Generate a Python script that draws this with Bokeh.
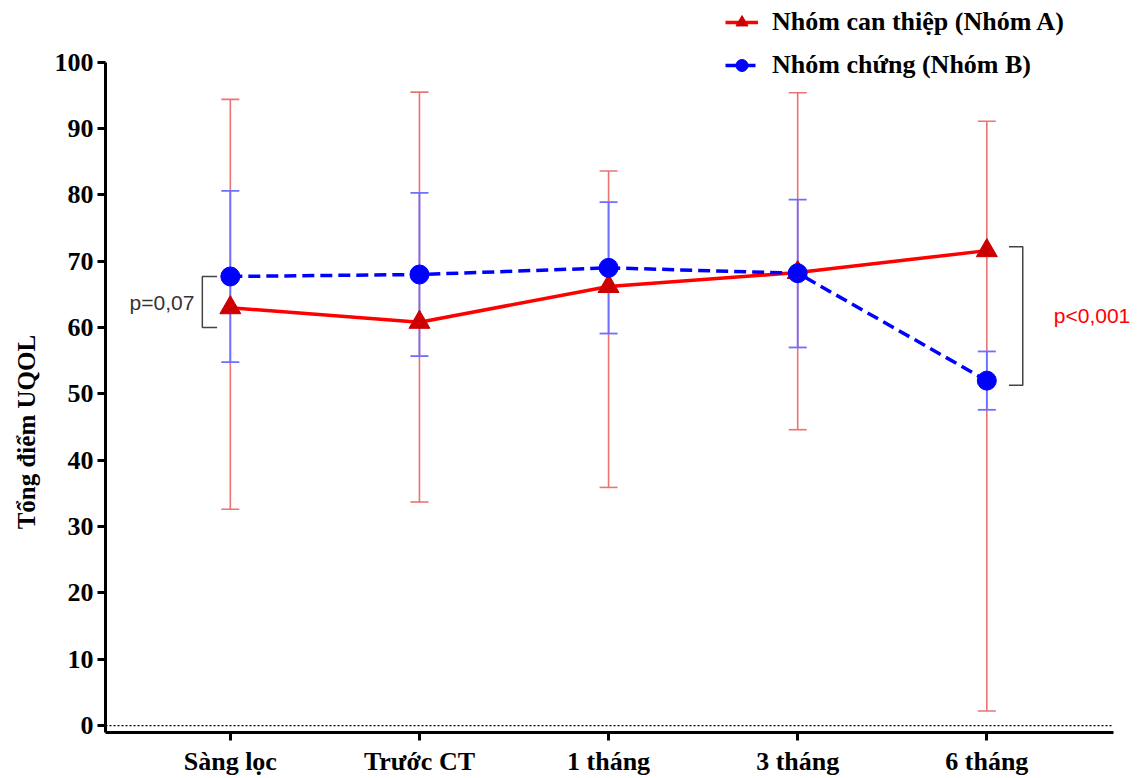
from bokeh.plotting import figure
from bokeh.models import (ColumnDataSource, Range1d, FixedTicker, Legend, LegendItem)
from bokeh.core.properties import value
from bokeh.embed import file_html
from bokeh.resources import INLINE

# ---- data ----
categories = ["Sàng lọc", "Trước CT", "1 tháng", "3 tháng", "6 tháng"]
group_a_mean = [63.0, 60.8, 66.2, 68.3, 71.6]
group_a_upper = [94.4, 95.5, 83.6, 95.4, 91.1]
group_a_lower = [32.6, 33.7, 35.9, 44.6, 2.2]
group_b_mean = [67.7, 68.0, 69.0, 68.2, 52.0]
group_b_upper = [80.6, 80.3, 78.9, 79.3, 56.4]
group_b_lower = [54.8, 55.7, 59.1, 57.0, 47.6]
series_labels = ["Nhóm can thiệp (Nhóm A)", "Nhóm chứng (Nhóm B)"]
y_ticks = [0, 10, 20, 30, 40, 50, 60, 70, 80, 90, 100]
y_label = "Tổng điểm UQOL"
p_left_text = "p=0,07"
p_left_span = [67.7, 60.0]
p_right_text = "p<0,001"
p_right_span = [72.2, 51.3]

x = list(range(len(categories)))
SERIF = "Liberation Serif"
SANS = "Liberation Sans"

# axis extents (style/layout)
X_LO, X_HI = -0.66, 4.67
Y_LO, Y_HI = -1.05, 100

p = figure(width=1145, height=778, output_backend="svg", toolbar_location=None,
           x_range=Range1d(X_LO, 4.839), y_range=Range1d(Y_LO, 109.31),
           min_border_left=105, min_border_right=0, min_border_top=0, min_border_bottom=43)
p.outline_line_color = None
p.xgrid.visible = False
p.ygrid.visible = False
p.background_fill_color = "white"

# dotted zero line (limited to the axis extent)
p.line(x=[X_LO, X_HI], y=[0, 0], line_color="black", line_width=1.2, line_dash="2 2")

src_a = ColumnDataSource(dict(x=x, m=group_a_mean, u=group_a_upper, l=group_a_lower))
src_b = ColumnDataSource(dict(x=x, m=group_b_mean, u=group_b_upper, l=group_b_lower))

# error bars
for src, col, lw in ((src_a, "#EC7373", 1.6), (src_b, "#6E6EFF", 1.8)):
    p.segment(x0="x", x1="x", y0="l", y1="u", source=src, line_color=col, line_width=lw)
    p.scatter(x="x", y="u", source=src, marker="dash", size=18, line_color=col, line_width=lw)
    p.scatter(x="x", y="l", source=src, marker="dash", size=18, line_color=col, line_width=lw)

la = p.line(x="x", y="m", source=src_a, line_color="#FF0000", line_width=3.5)
sa = p.scatter(x="x", y="m", source=src_a, marker="triangle", size=21, fill_color="#CC0000", line_color="#CC0000")
lb = p.line(x="x", y="m", source=src_b, line_color="#0000FF", line_width=3.5, line_dash="12 6")
sb = p.scatter(x="x", y="m", source=src_b, marker="circle", size=19, fill_color="#0000FF", line_color="#0000FF")

# brackets
xl_in, xl_out = -0.07, -0.148
p.line(x=[xl_in, xl_out, xl_out, xl_in], y=[p_left_span[0], p_left_span[0], p_left_span[1], p_left_span[1]],
       line_color="#444444", line_width=1.5)
xr_in, xr_out = 4.117, 4.19
p.line(x=[xr_in, xr_out, xr_out, xr_in], y=[p_right_span[0], p_right_span[0], p_right_span[1], p_right_span[1]],
       line_color="#444444", line_width=1.5)
p.text(x=[-0.19], y=[sum(p_left_span) / 2], text=[p_left_text], text_align="right", text_baseline="middle",
       text_font=value(SANS), text_font_size="21px", text_color="#333333")
p.text(x=[4.354], y=[sum(p_right_span) / 2], text=[p_right_text], text_align="left", text_baseline="middle",
       text_font=value(SANS), text_font_size="21px", text_color="#FF0000")

# axes
for ax in (p.xaxis[0], p.yaxis[0]):
    ax.axis_line_width = 3
    ax.axis_line_color = "black"
    ax.major_tick_line_width = 3
    ax.major_tick_line_color = "black"
    ax.major_tick_out = 8
    ax.major_tick_in = 0
    ax.minor_tick_line_color = None
    ax.major_label_text_font = SERIF
    ax.major_label_text_font_style = "bold"
    ax.major_label_text_font_size = "26px"
    ax.major_label_text_color = "black"

p.yaxis.bounds = (Y_LO, Y_HI)
p.xaxis.bounds = (X_LO, X_HI)

p.yaxis.ticker = FixedTicker(ticks=y_ticks)
p.yaxis.major_label_standoff = 4
# trailing no-break spaces shift the centred label down to where the reference has it
p.yaxis.axis_label = y_label + "\u00a0" * 21
p.yaxis.axis_label_text_font = SERIF
p.yaxis.axis_label_text_font_style = "bold"
p.yaxis.axis_label_text_font_size = "25px"
p.yaxis.axis_label_text_color = "black"
p.yaxis.axis_label_standoff = 12

p.xaxis.ticker = FixedTicker(ticks=x)
p.xaxis.major_label_overrides = {i: c for i, c in enumerate(categories)}
p.xaxis.major_label_standoff = 6

legend = Legend(items=[LegendItem(label=series_labels[0], renderers=[la, sa]),
                       LegendItem(label=series_labels[1], renderers=[lb, sb])],
                location=(620, 652), orientation="vertical")
legend.border_line_color = None
legend.background_fill_alpha = 0
legend.padding = 0
legend.margin = 0
legend.spacing = 13
legend.glyph_width = 33
legend.glyph_height = 30
legend.label_height = 30
legend.label_standoff = 14
legend.label_text_font = SERIF
legend.label_text_font_style = "bold"
legend.label_text_font_size = "26px"
legend.label_text_color = "black"
p.add_layout(legend, "center")

open("out.html", "w").write(file_html(p, INLINE))
